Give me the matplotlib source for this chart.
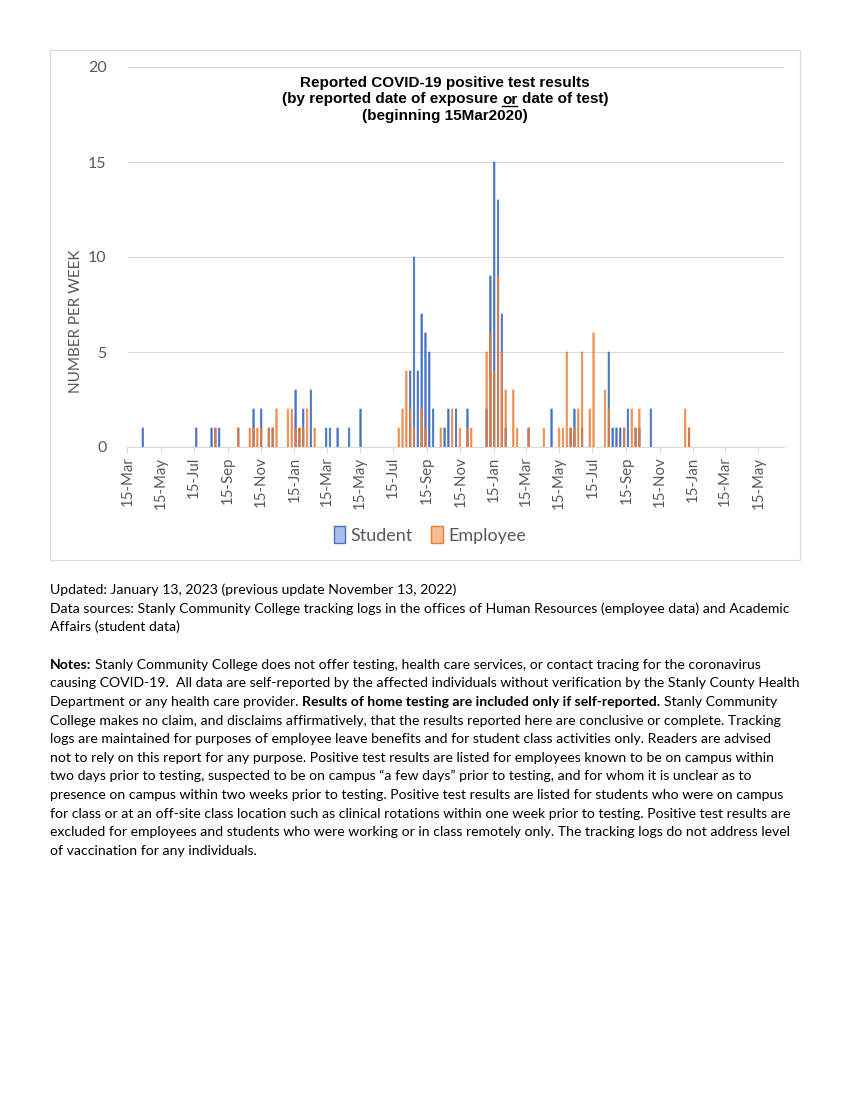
import datetime as dt
import matplotlib
matplotlib.use("Agg")
import matplotlib.pyplot as plt
import matplotlib.dates as mdates
from matplotlib.patches import Rectangle, Patch
from matplotlib.lines import Line2D

# ---------------- data (weeks with any reported case) ----------------
week_start = [
    "2020-04-12", "2020-07-19", "2020-08-16", "2020-08-23", "2020-08-30",
    "2020-10-04", "2020-10-25", "2020-11-01", "2020-11-08", "2020-11-15",
    "2020-11-29", "2020-12-06", "2020-12-13", "2021-01-03", "2021-01-10",
    "2021-01-17", "2021-01-24", "2021-01-31", "2021-02-07", "2021-02-14",
    "2021-02-21", "2021-03-14", "2021-03-21", "2021-04-04", "2021-04-25",
    "2021-05-16", "2021-07-25", "2021-08-01", "2021-08-08", "2021-08-15",
    "2021-08-22", "2021-08-29", "2021-09-05", "2021-09-12", "2021-09-19",
    "2021-09-26", "2021-10-10", "2021-10-17", "2021-10-24", "2021-10-31",
    "2021-11-07", "2021-11-14", "2021-11-28", "2021-12-05", "2022-01-02",
    "2022-01-09", "2022-01-16", "2022-01-23", "2022-01-30", "2022-02-06",
    "2022-02-20", "2022-02-27", "2022-03-20", "2022-04-17", "2022-05-01",
    "2022-05-15", "2022-05-22", "2022-05-29", "2022-06-05", "2022-06-12",
    "2022-06-19", "2022-06-26", "2022-07-10", "2022-07-17", "2022-08-07",
    "2022-08-14", "2022-08-21", "2022-08-28", "2022-09-04", "2022-09-11",
    "2022-09-18", "2022-09-25", "2022-10-02", "2022-10-09", "2022-10-30",
    "2023-01-01", "2023-01-08",
]
student = [
    1, 1, 1, 1, 1,
    1, 0, 2, 0, 2,
    1, 1, 0, 0, 0,
    3, 1, 2, 0, 3,
    0, 1, 1, 1, 1,
    2, 0, 0, 0, 4,
    10, 4, 7, 6, 5,
    2, 0, 1, 2, 0,
    2, 0, 2, 0, 2,
    9, 15, 13, 7, 1,
    0, 0, 1, 0, 2,
    0, 0, 0, 1, 2,
    0, 1, 0, 0, 0,
    5, 1, 1, 1, 1,
    2, 0, 1, 1, 2,
    0, 1,
]
employee = [
    0, 0, 0, 1, 0,
    1, 1, 1, 1, 1,
    1, 1, 2, 2, 2,
    1, 1, 1, 2, 0,
    1, 0, 0, 0, 0,
    0, 1, 2, 4, 2,
    1, 0, 2, 1, 0,
    0, 1, 0, 0, 2,
    0, 1, 1, 1, 5,
    6, 4, 9, 5, 3,
    3, 1, 1, 1, 0,
    1, 1, 5, 1, 1,
    2, 5, 2, 6, 3,
    2, 0, 0, 0, 1,
    0, 2, 1, 2, 0,
    2, 1,
]
series_names = ["Student", "Employee"]
tick_dates = [
    "2020-03-15", "2020-05-15", "2020-07-15", "2020-09-15", "2020-11-15",
    "2021-01-15", "2021-03-15", "2021-05-15", "2021-07-15", "2021-09-15",
    "2021-11-15", "2022-01-15", "2022-03-15", "2022-05-15", "2022-07-15",
    "2022-09-15", "2022-11-15", "2023-01-15", "2023-03-15", "2023-05-15",
]
tick_labels = [
    "15-Mar", "15-May", "15-Jul", "15-Sep", "15-Nov",
    "15-Jan", "15-Mar", "15-May", "15-Jul", "15-Sep",
    "15-Nov", "15-Jan", "15-Mar", "15-May", "15-Jul",
    "15-Sep", "15-Nov", "15-Jan", "15-Mar", "15-May",
]
y_ticks = [0, 5, 10, 15, 20]

# ---------------- styling ----------------
plt.rcParams["font.family"] = ["Lato", "DejaVu Sans"]
BLUE = "#4472C4"
ORANGE = "#ED7D31"
GREY_TXT = "#595959"
GRID = "#D9D9D9"

W, H = 850, 1100
fig = plt.figure(figsize=(8.5, 11), dpi=100)
renderer = fig.canvas.get_renderer()


def fx(x):
    return x / W


def fy(y):
    return 1 - y / H


def text_width(s, **kw):
    t = fig.text(0, 0, s, **kw)
    w = t.get_window_extent(renderer).width
    t.remove()
    return w


# chart border
fig.patches.append(Rectangle((fx(50), fy(560)), 750 / W, 510 / H, transform=fig.transFigure,
                             fill=False, edgecolor=GRID, linewidth=0.8))

ax = fig.add_axes([fx(127.5), fy(447), (784 - 127.5) / W, (447 - 67) / H])
xs = mdates.date2num([dt.date.fromisoformat(d) for d in week_start])
b1 = ax.bar(xs, student, width=2.6, color=BLUE, edgecolor=BLUE, linewidth=0.5, zorder=3)
b2 = ax.bar(xs, employee, width=2.6, color=ORANGE, edgecolor=ORANGE, linewidth=0.5,
            alpha=0.82, zorder=4)
for p in list(b1) + list(b2):
    p.set_snap(False)

ax.set_xlim(mdates.date2num(dt.date(2020, 3, 15)), mdates.date2num(dt.date(2023, 7, 1)))
ax.set_ylim(0, 20)
ax.set_yticks(y_ticks)
ax.yaxis.grid(True, color=GRID, linewidth=0.8)
ax.set_axisbelow(True)
for s in ["top", "right", "left"]:
    ax.spines[s].set_visible(False)
ax.spines["bottom"].set_color(GRID)
ax.spines["bottom"].set_linewidth(0.8)
ax.set_xticks(mdates.date2num([dt.date.fromisoformat(d) for d in tick_dates]))
ax.set_xticklabels(tick_labels, rotation=90, fontsize=10.8, color=GREY_TXT)
ax.tick_params(axis="x", length=4, width=0.8, color=GRID, pad=3)
ax.tick_params(axis="y", length=0, pad=15, labelcolor=GREY_TXT, labelsize=11.5)

fig.text(fx(76), fy(321), "NUMBER PER WEEK", rotation=90, ha="center", va="center",
         fontsize=11, color=GREY_TXT)

handles = [Patch(facecolor="#A9BFE6", edgecolor=BLUE, linewidth=1),
           Patch(facecolor="#F6BC95", edgecolor=ORANGE, linewidth=1)]
fig.legend(handles, series_names, loc="center", bbox_to_anchor=(fx(430), fy(535)), ncol=2,
           frameon=False, fontsize=13, labelcolor=GREY_TXT, handlelength=0.65,
           handleheight=1.1, handletextpad=0.3, columnspacing=1.0)

# ---------------- title ----------------
TFAM = "Liberation Sans"
tsize = 11 * 289 / text_width("Reported COVID-19 positive test results", family=TFAM,
                              fontweight="bold", fontsize=11)
tkw = dict(family=TFAM, fontweight="bold", fontsize=tsize, color="black", va="baseline")
cx = 445
fig.text(fx(cx), fy(86.5), "Reported COVID-19 positive test results", ha="center", **tkw)
fig.text(fx(cx), fy(120), "(beginning 15Mar2020)", ha="center", **tkw)
pieces = ["(by reported date of exposure", "or", "date of test)"]
widths = [text_width(p, family=TFAM, fontweight="bold", fontsize=tsize) for p in pieces]
sp = (text_width("a a", family=TFAM, fontweight="bold", fontsize=tsize)
      - text_width("aa", family=TFAM, fontweight="bold", fontsize=tsize))
total = sum(widths) + 2 * sp
x0 = cx - total / 2
ytb = 103.5
for i, p in enumerate(pieces):
    fig.text(fx(x0), fy(ytb), p, ha="left", **tkw)
    if p == "or":
        fig.add_artist(Line2D([fx(x0), fx(x0 + widths[i])], [fy(ytb + 2), fy(ytb + 2)],
                              transform=fig.transFigure, color="black", linewidth=1.0))
    x0 += widths[i] + sp

# ---------------- notes ----------------
BFAM = "Lato"
ref_line = ("causing COVID-19.  All data are self-reported by the affected individuals "
            "without verification by the Stanly County Health")
bsize = 10 * 746 / text_width(ref_line, family=BFAM, fontsize=10)

lines = [
    [("Updated: January 13, 2023 (previous update November 13, 2022)", False)],
    [("Data sources: Stanly Community College tracking logs in the offices of Human Resources (employee data) and Academic", False)],
    [("Affairs (student data)", False)],
    None,
    [("Notes:", True), ("Stanly Community College does not offer testing, health care services, or contact tracing for the coronavirus", False)],
    [(ref_line, False)],
    [("Department or any health care provider.", False), ("Results of home testing are included only if self-reported.", True), ("Stanly Community", False)],
    [("College makes no claim, and disclaims affirmatively, that the results reported here are conclusive or complete. Tracking", False)],
    [("logs are maintained for purposes of employee leave benefits and for student class activities only. Readers are advised", False)],
    [("not to rely on this report for any purpose. Positive test results are listed for employees known to be on campus within", False)],
    [("two days prior to testing, suspected to be on campus \u201ca few days\u201d prior to testing, and for whom it is unclear as to", False)],
    [("presence on campus within two weeks prior to testing. Positive test results are listed for students who were on campus", False)],
    [("for class or at an off-site class location such as clinical rotations within one week prior to testing. Positive test results are", False)],
    [("excluded for employees and students who were working or in class remotely only. The tracking logs do not address level", False)],
    [("of vaccination for any individuals.", False)],
]
bsp = text_width("a a", family=BFAM, fontsize=bsize) - text_width("aa", family=BFAM, fontsize=bsize)
for i, runs in enumerate(lines):
    if runs is None:
        continue
    yb = 594 + 18.65 * i
    xcur = 50
    for j, (s, bold) in enumerate(runs):
        kw = dict(family=BFAM, fontsize=bsize, fontweight="bold" if bold else "normal")
        fig.text(fx(xcur), fy(yb), s, ha="left", va="baseline", color="black", **kw)
        xcur += text_width(s, **kw) + bsp

fig.savefig("out.png", dpi=100)
